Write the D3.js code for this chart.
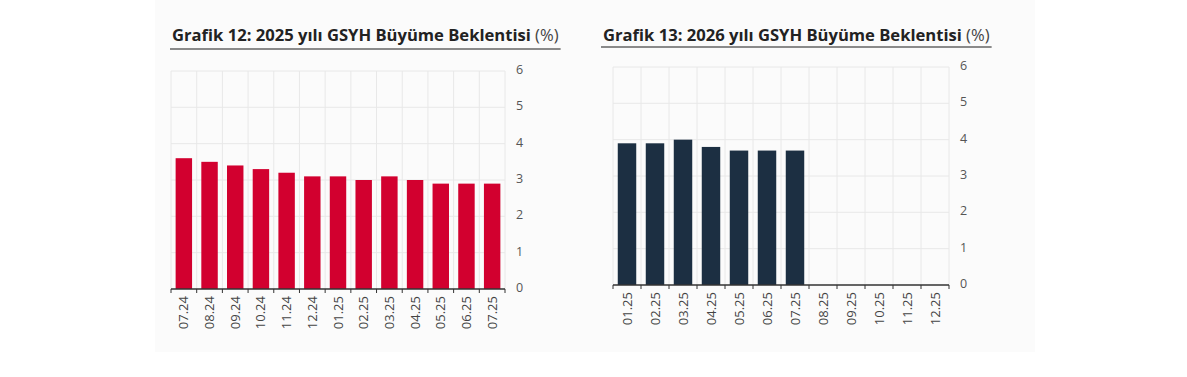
<!DOCTYPE html>
<html>
<head>
<meta charset="utf-8">
<script src="https://cdn.jsdelivr.net/npm/d3@7"></script>
<style>
  body { margin: 0; background: #fff; }
  text { font-family: "Open Sans", sans-serif; }
</style>
</head>
<body>
<div id="chart"></div>
<script>
// Chart data
var months1 = ["07.24", "08.24", "09.24", "10.24", "11.24", "12.24", "01.25", "02.25", "03.25", "04.25", "05.25", "06.25", "07.25"];
var values1 = [3.6, 3.5, 3.4, 3.3, 3.2, 3.1, 3.1, 3.0, 3.1, 3.0, 2.9, 2.9, 2.9];

var months2 = ["01.25", "02.25", "03.25", "04.25", "05.25", "06.25", "07.25", "08.25", "09.25", "10.25", "11.25", "12.25"];
var values2 = [3.9, 3.9, 4.0, 3.8, 3.7, 3.7, 3.7, null, null, null, null, null];

var yTicks = [0, 1, 2, 3, 4, 5, 6];

var svgWdt = 1187;
var svgHgt = 377;

var svg = d3.select("#chart").append("svg")
    .attr("width", svgWdt)
    .attr("height", svgHgt);

// faint background panel
svg.append("rect")
    .attr("x", 155).attr("y", 0)
    .attr("width", 880).attr("height", 352)
    .attr("fill", "#fbfbfb");

function drawChart(opts) {
    var g = svg.append("g");

    // title, bold part + regular unit
    var title = g.append("text")
        .attr("x", opts.titleX)
        .attr("y", 41)
        .attr("font-size", 16.6)
        .attr("fill", "#222");
    title.append("tspan").attr("font-weight", 700).text(opts.title);
    title.append("tspan").attr("font-weight", 400).attr("fill", "#444").text(" (%)");

    var tw = title.node().getComputedTextLength();
    g.append("line")
        .attr("x1", opts.titleX - 2).attr("x2", opts.titleX + tw + 2)
        .attr("y1", opts.lineY).attr("y2", opts.lineY)
        .attr("stroke", "#8a8a8a").attr("stroke-width", 2);

    var x = d3.scaleBand()
        .domain(opts.cats)
        .range([opts.left, opts.right])
        .paddingInner(opts.pad)
        .paddingOuter(opts.pad / 2);

    var y = d3.scaleLinear().domain([0, 6]).range([opts.bottom, opts.top]);

    var step = x.step();
    var bounds = d3.range(opts.cats.length + 1).map(i => opts.left + i * step);

    // grid
    g.selectAll(".hgrid").data(yTicks.slice(1)).enter()
        .append("line")
        .attr("x1", opts.left).attr("x2", opts.right)
        .attr("y1", d => y(d)).attr("y2", d => y(d))
        .attr("stroke", "#e8e8e8").attr("stroke-width", 1);
    g.selectAll(".vgrid").data(bounds).enter()
        .append("line")
        .attr("x1", d => d).attr("x2", d => d)
        .attr("y1", opts.top).attr("y2", opts.bottom)
        .attr("stroke", "#e8e8e8").attr("stroke-width", 1);

    // bars
    g.selectAll(".bar").data(opts.cats.map((c, i) => ({ c: c, v: opts.vals[i] })).filter(d => d.v != null))
        .enter()
        .append("rect")
        .attr("x", d => x(d.c))
        .attr("y", d => y(d.v))
        .attr("width", x.bandwidth())
        .attr("height", d => y(0) - y(d.v))
        .attr("fill", opts.color);

    // right axis labels
    var rightAx = d3.axisRight(y).tickValues(yTicks).tickFormat(d3.format("d")).tickSize(0).tickPadding(opts.labPad);
    var ra = g.append("g")
        .attr("transform", `translate(${opts.right}, 0)`)
        .call(rightAx);
    ra.select(".domain").remove();
    ra.selectAll("text").attr("font-size", 12.5).attr("fill", "#555").attr("font-family", "Open Sans, sans-serif")
        .attr("dy", "0.2em");

    // bottom axis
    g.append("line")
        .attr("x1", opts.left).attr("x2", opts.right)
        .attr("y1", opts.bottom).attr("y2", opts.bottom)
        .attr("stroke", "#333").attr("stroke-width", 1.5);
    g.selectAll(".tick-m").data(bounds).enter()
        .append("line")
        .attr("x1", d => d).attr("x2", d => d)
        .attr("y1", opts.bottom).attr("y2", opts.bottom + 4)
        .attr("stroke", "#333").attr("stroke-width", 1);

    g.selectAll(".xlab").data(opts.cats).enter()
        .append("text")
        .attr("transform", d => `translate(${x(d) + x.bandwidth() / 2 + 4.5}, ${opts.bottom + 7}) rotate(-90)`)
        .attr("text-anchor", "end")
        .attr("font-size", 13)
        .attr("fill", "#444")
        .text(d => d);
}

drawChart({
    title: "Grafik 12: 2025 yılı GSYH Büyüme Beklentisi",
    titleX: 172, lineY: 49,
    cats: months1, vals: values1,
    left: 171, right: 505, top: 71, bottom: 289,
    pad: 0.36, color: "#d2002f", labPad: 11
});

drawChart({
    title: "Grafik 13: 2026 yılı GSYH Büyüme Beklentisi",
    titleX: 603, lineY: 47,
    cats: months2, vals: values2,
    left: 613, right: 949, top: 67, bottom: 285,
    pad: 0.34, color: "#1c2f42", labPad: 11
});
</script>
</body>
</html>
